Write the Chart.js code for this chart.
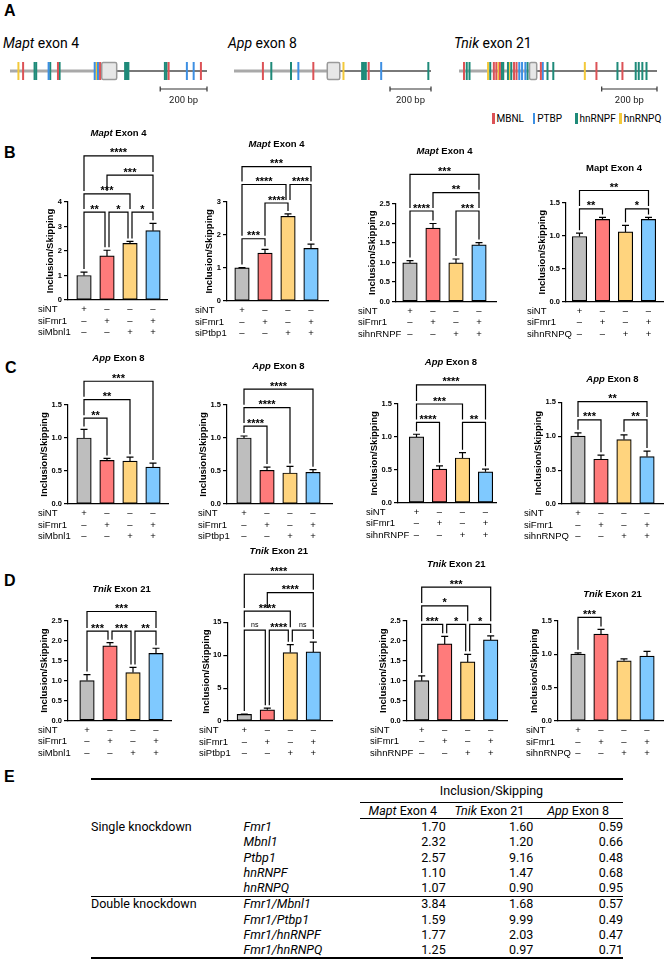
<!DOCTYPE html>
<html>
<head>
<meta charset="utf-8">
<title>Fmr1 splicing figure</title>
<script src="https://cdn.jsdelivr.net/npm/chart.js@4.4.1/dist/chart.umd.min.js"></script>
<style>
  html, body { margin: 0; padding: 0; background: #fff; }
  #page { position: relative; width: 667px; height: 960px; overflow: hidden; color: #000;
          font-family: "Liberation Sans", Arial, sans-serif; }
  #page canvas { position: absolute; }
  .letter { position: absolute; font-weight: bold; font-size: 16px; line-height: 16px; }
  .gene { position: absolute; font-family: Roboto, sans-serif; font-size: 14px; line-height: 16px; white-space: nowrap; }
  .key { position: absolute; top: 113px; font-family: Roboto, sans-serif; font-size: 10px; line-height: 12px; white-space: nowrap; }
  .key i { display: inline-block; width: 2.5px; height: 11px; margin-right: 2px; vertical-align: -2px; }
  #tbl { position: absolute; left: 91px; top: 778px; width: 532px; border-collapse: collapse; table-layout: fixed;
         font-family: Roboto, sans-serif; font-size: 12.5px; border-top: 2px solid #000; border-bottom: 2px solid #000; }
  #tbl td { padding: 0; white-space: nowrap; line-height: 14px; }
  #tbl td.num { text-align: right; }
  #tbl td.hd { text-align: center; }
  #tbl tr.h1 td { height: 22px; }
  #tbl tr.h1 td.span { border-bottom: 1px solid #000; }
  #tbl tr.h2 td { height: 15.4px; }
  #tbl tr.h2 td.hd { border-bottom: 1px solid #000; }
  #tbl tr.single td { height: 15.3px; }
  #tbl tr.double td { height: 15.1px; }
  #tbl tr.sep td { border-top: 1px solid #000; }
</style>
</head>
<body>
<div id="page">
  <div class="letter" style="left:4px;top:3px">A</div>
  <div class="letter" style="left:4px;top:145px">B</div>
  <div class="letter" style="left:5px;top:360px">C</div>
  <div class="letter" style="left:4px;top:573px">D</div>
  <div class="letter" style="left:4px;top:769px">E</div>
  <table id="tbl"></table>
</div>
<script>
// ---------- A: binding sites around each exon (bp from the left end of the fragment) ----------
const factorNames = ['MBNL', 'PTBP', 'hnRNPF', 'hnRNPQ'];
const factorColors = ['#DC5256', '#3D8FE3', '#1E8A79', '#F3C93A'];

const geneNames = ['Mapt', 'App', 'Tnik'];
const geneExonLabels = ['exon 4', 'exon 8', 'exon 21'];
const geneLengths = [842, 961, 716];
const exonStarts = [392, 455, 255];
const exonEnds = [456, 516, 281];
const scaleBarBp = 200;

// site type = index into factorNames
const maptSitePos = [36, 56, 105, 112, 165, 172, 205, 212, 362, 369, 376, 385, 492, 500, 506, 662, 669, 678, 756, 785, 816];
const maptSiteType = [3, 0, 2, 2, 1, 2, 0, 2, 1, 3, 1, 0, 2, 2, 2, 2, 2, 0, 1, 1, 0];
const appSitePos = [141, 182, 278, 314, 387, 534, 625, 634, 643, 657, 718, 948];
const appSiteType = [0, 2, 2, 1, 0, 3, 2, 2, 2, 0, 1, 2];
const tnikSitePos = [18, 28, 38, 105, 113, 126, 135, 143, 148, 155, 160, 177, 182, 189, 199, 208, 218, 228, 240, 248,
                     296, 303, 320, 341, 455, 497, 573, 591, 639, 650, 663, 678];
const tnikSiteType = [0, 2, 2, 3, 2, 0, 0, 3, 0, 2, 2, 2, 3, 2, 0, 0, 1, 1, 1, 2,
                      0, 1, 2, 2, 3, 0, 2, 0, 2, 2, 2, 2];

// ---------- B-D: inclusion/skipping ratios (mean, upper SEM) ----------
const conditionColors = ['#BEBEBE', '#FF7B7B', '#FFD47E', '#7FC9FF'];
const partnerSirnas = ['siMbnl1', 'siPtbp1', 'sihnRNPF', 'sihnRNPQ'];
const siNtSigns = ['+', '–', '–', '–'];
const siFmr1Signs = ['–', '+', '–', '+'];
const partnerSigns = ['–', '–', '+', '+'];

const maptMeans = [[1.00, 1.80, 2.31, 2.83], [1.00, 1.45, 2.56, 1.59], [0.99, 1.88, 0.99, 1.45], [0.99, 1.25, 1.06, 1.25]];
const maptErrors = [[0.14, 0.23, 0.08, 0.30], [0.01, 0.11, 0.07, 0.13], [0.06, 0.12, 0.10, 0.06], [0.05, 0.03, 0.10, 0.03]];
// [from, to, label, height of the bracket]
const maptStats = [
  [[0, 3, '****', 5.88], [1, 3, '***', 5.10], [0, 2, '***', 4.33], [0, 1, '**', 3.59], [1, 2, '*', 3.59], [2, 3, '*', 3.59]],
  [[0, 3, '***', 4.06], [0, 2, '****', 3.52], [2, 3, '****', 3.52], [1, 2, '****', 2.96], [0, 1, '***', 1.88]],
  [[0, 3, '***', 3.26], [1, 3, '**', 2.79], [0, 1, '****', 2.32], [2, 3, '***', 2.32]],
  [[0, 3, '**', 1.69], [0, 1, '**', 1.41], [2, 3, '*', 1.41]]
];
const appMeans = [[1.00, 0.66, 0.65, 0.56], [1.00, 0.51, 0.47, 0.48], [1.00, 0.51, 0.68, 0.47], [1.00, 0.66, 0.95, 0.70]];
const appErrors = [[0.13, 0.03, 0.06, 0.06], [0.03, 0.05, 0.10, 0.04], [0.04, 0.05, 0.08, 0.04], [0.05, 0.06, 0.07, 0.08]];
const appStats = [
  [[0, 3, '***', 1.86], [0, 2, '**', 1.58], [0, 1, '**', 1.30]],
  [[0, 3, '****', 1.74], [0, 2, '****', 1.46], [0, 1, '****', 1.18]],
  [[0, 3, '****', 1.79], [0, 2, '***', 1.50], [0, 1, '****', 1.22], [2, 3, '**', 1.22]],
  [[0, 3, '**', 1.51], [0, 1, '***', 1.24], [2, 3, '**', 1.24]]
];
const tnikMeans = [[1.00, 1.87, 1.20, 1.68], [1.00, 1.70, 10.4, 10.5], [1.00, 1.92, 1.47, 2.02], [1.00, 1.30, 0.90, 0.97]];
const tnikErrors = [[0.15, 0.08, 0.13, 0.13], [0.05, 0.25, 1.2, 1.5], [0.12, 0.19, 0.19, 0.10], [0.02, 0.07, 0.03, 0.07]];
const tnikStats = [
  [[0, 3, '***', 2.73], [0, 1, '***', 2.24], [1, 2, '***', 2.24], [2, 3, '**', 2.24]],
  [[0, 3, '****', 22.3], [1, 3, '****', 19.5], [0, 2, '****', 16.7], [0, 1, 'ns', 13.8], [1, 2, '****', 13.8], [2, 3, 'ns', 13.8]],
  [[0, 3, '***', 3.34], [0, 2, '*', 2.87], [0, 1, '***', 2.41], [1, 2, '*', 2.41], [2, 3, '*', 2.41]],
  [[0, 1, '***', 1.55]]
];
const yAxisMax = [[4, 3, 2.5, 1.5], [1.5, 1.5, 1.5, 1.5], [2.5, 15, 2.5, 1.5]];
const yAxisStep = [[1, 1, 0.5, 0.5], [0.5, 0.5, 0.5, 0.5], [0.5, 5, 0.5, 0.5]];

// ---------- E: summary table ----------
const tableKnockdowns = ['Fmr1', 'Mbnl1', 'Ptbp1', 'hnRNPF', 'hnRNPQ', 'Fmr1/Mbnl1', 'Fmr1/Ptbp1', 'Fmr1/hnRNPF', 'Fmr1/hnRNPQ'];
const maptRatio = [1.70, 2.32, 2.57, 1.10, 1.07, 3.84, 1.59, 1.77, 1.25];
const tnikRatio = [1.60, 1.20, 9.16, 1.47, 0.90, 1.68, 9.99, 2.03, 0.97];
const appRatio = [0.59, 0.66, 0.48, 0.68, 0.95, 0.57, 0.49, 0.47, 0.71];

// ---------- layout ----------
const FONT = '"Liberation Sans", Arial, sans-serif';
const page = document.getElementById('page');

function addCanvas(left, top, w, h) {
  const c = document.createElement('canvas');
  c.width = w; c.height = h;
  c.style.left = left + 'px'; c.style.top = top + 'px';
  c.style.width = w + 'px'; c.style.height = h + 'px';
  page.appendChild(c);
  return c;
}

// gene diagram lines on the page: [start px, end px]
const geneLinePx = [[2.7, 213.3], [226.7, 438], [451.7, 664]];
const geneLabelX = [3, 228, 454];
const siteLists = [[maptSitePos, maptSiteType], [appSitePos, appSiteType], [tnikSitePos, tnikSiteType]];

const exonBox = {
  id: 'exonBox',
  afterDatasetsDraw(chart) {
    const g = chart.options.plugins.exonBox.gene;
    const ctx = chart.ctx, xs = chart.scales.x, ys = chart.scales.y;
    const y0 = ys.getPixelForValue(0);
    const x1 = xs.getPixelForValue(exonStarts[g]), x2 = xs.getPixelForValue(exonEnds[g]);
    ctx.save();
    ctx.fillStyle = '#e7e7e7'; ctx.strokeStyle = '#9a9a9a'; ctx.lineWidth = 1.5;
    ctx.beginPath(); ctx.roundRect(x1, y0 - 8.5, x2 - x1, 17, 1.5); ctx.fill(); ctx.stroke();
    // scale bar
    const s1 = xs.getPixelForValue(geneLengths[g] - scaleBarBp), s2 = xs.getPixelForValue(geneLengths[g]);
    const yb = y0 + 18;
    ctx.strokeStyle = '#333'; ctx.lineWidth = 1.2;
    ctx.beginPath();
    ctx.moveTo(s1, yb); ctx.lineTo(s2, yb);
    ctx.moveTo(s1, yb - 2.5); ctx.lineTo(s1, yb + 2.5);
    ctx.moveTo(s2, yb - 2.5); ctx.lineTo(s2, yb + 2.5);
    ctx.stroke();
    ctx.fillStyle = '#222'; ctx.font = '9.5px Roboto, sans-serif';
    ctx.textAlign = 'center'; ctx.textBaseline = 'middle';
    ctx.fillText(scaleBarBp + ' bp', (s1 + s2) / 2, y0 + 30);
    ctx.restore();
  }
};

geneNames.forEach((name, g) => {
  const label = document.createElement('span');
  label.className = 'gene';
  label.style.left = geneLabelX[g] + 'px'; label.style.top = '35px';
  label.innerHTML = '<i>' + name + '</i> ' + geneExonLabels[g];
  page.appendChild(label);

  const [lx1, lx2] = geneLinePx[g];
  const left = Math.floor(lx1) - 3, top = 50;
  const w = Math.ceil(lx2) + 4 - left, h = 62;
  const padL = lx1 - left, padR = w - padL - (lx2 - lx1);
  const [pos, type] = siteLists[g];
  const siteSets = factorNames.map((f, k) => ({
    type: 'scatter', label: f,
    data: pos.filter((p, n) => type[n] === k).map(p => ({ x: p, y: 0 })),
    pointStyle: 'line', pointRotation: 90, pointRadius: 9, pointHoverRadius: 9,
    pointBorderWidth: 2, pointBorderColor: factorColors[k], pointBackgroundColor: factorColors[k],
    clip: false
  }));
  new Chart(addCanvas(left, top, w, h), {
    type: 'scatter',
    data: {
      datasets: siteSets.concat([
        { type: 'line', data: [{ x: 0, y: 0 }, { x: exonStarts[g], y: 0 }], borderColor: '#a9a9a9', borderWidth: 3, pointRadius: 0, clip: false },
        { type: 'line', data: [{ x: exonEnds[g], y: 0 }, { x: geneLengths[g], y: 0 }], borderColor: '#4d4d4d', borderWidth: 1.3, pointRadius: 0, clip: false }
      ])
    },
    options: {
      responsive: false, animation: false, devicePixelRatio: 1, events: [],
      layout: { padding: { left: padL, right: padR, top: 11, bottom: h - 31 } },
      plugins: { legend: { display: false }, tooltip: { enabled: false }, exonBox: { gene: g } },
      scales: {
        x: { type: 'linear', min: 0, max: geneLengths[g], display: false },
        y: { type: 'linear', min: -1, max: 1, display: false }
      }
    },
    plugins: [exonBox]
  });
});

// factor key
const keyX = [492, 532.7, 575, 619.3];
factorNames.forEach((f, k) => {
  const s = document.createElement('span');
  s.className = 'key';
  s.style.left = keyX[k] + 'px';
  s.innerHTML = '<i style="background:' + factorColors[k] + '"></i>' + f;
  page.appendChild(s);
});

// bar panels: [axis x, y px of axis max, y px of zero, first bar offset, axis length, row label x]
const chartBoxes = [
  [[68, 202, 300, 16, 99, 38], [227, 201.7, 301, 15, 101, 195], [396, 204, 301.5, 14, 100, 358], [566, 203, 301.5, 13.5, 97, 527]],
  [[68, 405, 504, 16, 100, 38], [227, 405, 504, 17, 105, 198], [398, 404, 502.7, 18.5, 98, 366], [562, 402.3, 504, 16, 101, 524]],
  [[68, 620.7, 720.5, 19, 103, 38], [227.3, 622.3, 721, 17, 105, 199], [406.7, 620.7, 720.7, 15, 101, 370], [558, 620.7, 721, 20, 105, 526]]
];
const rowGene = ['Mapt', 'App', 'Tnik'];
const rowExon = ['Exon 4', 'Exon 8', 'Exon 21'];
const rowMeans = [maptMeans, appMeans, tnikMeans];
const rowErrors = [maptErrors, appErrors, tnikErrors];
const rowStats = [maptStats, appStats, tnikStats];
const italicTitle = [[true, true, true, false], [true, true, true, true], [true, true, true, true]];

const PAD_L = 52, PAD_R = 4, PAD_T = 92, PAD_B = 44, BAR_STEP = 23, Y_W = 30;

function barPanel(r, c) {
  const [axisX, yTop, yZero, firstOff, axisLen, labelX] = chartBoxes[r][c];
  const means = rowMeans[r][c], errors = rowErrors[r][c], stats = rowStats[r][c];
  const left = Math.round(axisX - PAD_L), top = Math.round(yTop - PAD_T);
  const padL = axisX - left, padT = yTop - top;
  const w = Math.ceil(padL + axisLen + PAD_R), h = Math.ceil(padT + (yZero - yTop) + PAD_B);
  const padR = w - padL - axisLen, padB = h - padT - (yZero - yTop);
  const xMin = -firstOff / BAR_STEP, xMax = xMin + axisLen / BAR_STEP;
  const yStep = yAxisStep[r][c];
  const decimals = yStep < 1 ? 1 : 0;
  const tickFont = { family: FONT, size: 7.5, weight: 'bold' };

  const decor = {
    id: 'decor',
    afterDatasetsDraw(chart) {
      const ctx = chart.ctx, xs = chart.scales.x, ys = chart.scales.y, area = chart.chartArea;
      const px = i => xs.getPixelForValue(i);
      const py = v => ys.getPixelForValue(v);
      ctx.save();
      ctx.strokeStyle = '#000'; ctx.fillStyle = '#000'; ctx.lineWidth = 1.2;

      // upper error bars
      means.forEach((m, i) => {
        const x = px(i), y1 = py(m), y2 = py(m + errors[i]);
        ctx.beginPath();
        ctx.moveTo(x, y1); ctx.lineTo(x, y2);
        ctx.moveTo(x - 3.5, y2); ctx.lineTo(x + 3.5, y2);
        ctx.stroke();
      });

      // significance brackets
      const legEnd = (k, level) => {
        let y = py(means[k] + errors[k]);
        stats.forEach(s => { if (s[3] < level && s[0] <= k && k <= s[1]) y = Math.min(y, py(s[3])); });
        return y - 3;
      };
      const shared = (k, s) => stats.some(o => o !== s && o[3] === s[3] && (o[0] === k || o[1] === k));
      let topY = Infinity;
      stats.forEach(s => {
        const [i, j, label, level] = s;
        const yl = py(level);
        topY = Math.min(topY, yl);
        const xi = px(i) + (shared(i, s) ? 2 : 0);
        const xj = px(j) - (shared(j, s) ? 2 : 0);
        ctx.beginPath();
        ctx.moveTo(xi, legEnd(i, level)); ctx.lineTo(xi, yl);
        ctx.lineTo(xj, yl); ctx.lineTo(xj, legEnd(j, level));
        ctx.stroke();
        ctx.textAlign = 'center'; ctx.textBaseline = 'alphabetic';
        if (label === 'ns') {
          ctx.font = '7px ' + FONT;
          ctx.fillText(label, (xi + xj) / 2, yl - 3.5);
        } else {
          ctx.font = 'bold 11px ' + FONT;
          ctx.fillText(label, (xi + xj) / 2, yl + 0.5);
        }
      });

      // panel title above the top bracket
      const cx = (px(0) + px(3)) / 2, ty = topY - 22.5;
      const gFont = (italicTitle[r][c] ? 'italic ' : '') + 'bold 9.5px ' + FONT;
      const rFont = 'bold 9.5px ' + FONT;
      ctx.font = gFont; const gw = ctx.measureText(rowGene[r]).width;
      ctx.font = rFont; const rest = ' ' + rowExon[r]; const rw = ctx.measureText(rest).width;
      ctx.textAlign = 'left'; ctx.textBaseline = 'middle';
      ctx.font = gFont; ctx.fillText(rowGene[r], cx - (gw + rw) / 2, ty);
      ctx.font = rFont; ctx.fillText(rest, cx - (gw + rw) / 2 + gw, ty);

      // y axis title
      ctx.font = 'bold 7.5px ' + FONT;
      let lw = 0;
      for (let v = 0; v <= yAxisMax[r][c] + 1e-9; v += yStep) lw = Math.max(lw, ctx.measureText(v.toFixed(decimals)).width);
      ctx.save();
      ctx.translate(area.left - (4 + 2 + lw + 7), (area.top + area.bottom) / 2);
      ctx.rotate(-Math.PI / 2);
      ctx.font = 'bold 9.5px ' + FONT; ctx.textAlign = 'center'; ctx.textBaseline = 'middle';
      ctx.fillText('Inclusion/Skipping', 0, 0);
      ctx.restore();

      // knockdown rows
      const rows = [['siNT', siNtSigns], ['siFmr1', siFmr1Signs], [partnerSirnas[c], partnerSigns]];
      const rowDy = [9.5, 21, 32.5];
      ctx.font = '9.5px ' + FONT; ctx.textBaseline = 'middle';
      rows.forEach(([name, signs], k) => {
        const y = area.bottom + rowDy[k];
        ctx.textAlign = 'left';
        ctx.fillText(name, labelX - left, y);
        ctx.textAlign = 'center';
        signs.forEach((sg, i) => ctx.fillText(sg, px(i), y));
      });
      ctx.restore();
    }
  };

  new Chart(addCanvas(left, top, w, h), {
    type: 'bar',
    data: {
      datasets: [{
        data: means.map((m, i) => ({ x: i, y: m })),
        backgroundColor: conditionColors, borderColor: '#000', borderWidth: 1.2,
        borderSkipped: false, barThickness: 14.5
      }]
    },
    options: {
      responsive: false, animation: false, devicePixelRatio: 1, events: [],
      layout: { padding: { left: padL - Y_W, right: padR, top: padT, bottom: padB } },
      plugins: { legend: { display: false }, tooltip: { enabled: false } },
      scales: {
        x: {
          type: 'linear', min: xMin, max: xMax, offset: false,
          ticks: { display: false }, grid: { display: false },
          border: { display: true, color: '#000', width: 1.2 },
          afterFit: s => { s.height = 0; }
        },
        y: {
          min: 0, max: yAxisMax[r][c],
          ticks: { stepSize: yStep, font: tickFont, color: '#000', padding: 2, callback: v => Number(v).toFixed(decimals) },
          grid: { drawOnChartArea: false, drawTicks: true, tickLength: 4, color: '#000', lineWidth: 1.2 },
          border: { display: true, color: '#000', width: 1.2 },
          afterFit: s => { s.width = Y_W; }
        }
      }
    },
    plugins: [decor]
  });
}

for (let r = 0; r < 3; r++) for (let c = 0; c < 4; c++) barPanel(r, c);

// ---------- table ----------
(function buildTable() {
  const groups = [['Single knockdown', 0, 5, 'single'], ['Double knockdown', 5, 9, 'double']];
  const fmt = v => v.toFixed(2);
  let html = '<colgroup><col style="width:152.6px"><col style="width:116.4px"><col style="width:85.7px"><col style="width:87.6px"><col style="width:89.7px"></colgroup>';
  html += '<tr class="h1"><td></td><td></td><td class="hd span" colspan="3">Inclusion/Skipping</td></tr>';
  html += '<tr class="h2"><td></td><td></td>' + ['Mapt Exon 4', 'Tnik Exon 21', 'App Exon 8'].map(t => {
    const sp = t.indexOf(' ');
    return '<td class="hd"><i>' + t.slice(0, sp) + '</i>' + t.slice(sp) + '</td>';
  }).join('') + '</tr>';
  groups.forEach(([name, a, b, cls]) => {
    for (let i = a; i < b; i++) {
      html += '<tr class="' + cls + (i === a && a > 0 ? ' sep' : '') + '"><td>' + (i === a ? name : '') + '</td>' +
        '<td><i>' + tableKnockdowns[i] + '</i></td>' +
        '<td class="num">' + fmt(maptRatio[i]) + '</td><td class="num">' + fmt(tnikRatio[i]) + '</td><td class="num">' + fmt(appRatio[i]) + '</td></tr>';
    }
  });
  document.getElementById('tbl').innerHTML = html;
})();
</script>
</body>
</html>
